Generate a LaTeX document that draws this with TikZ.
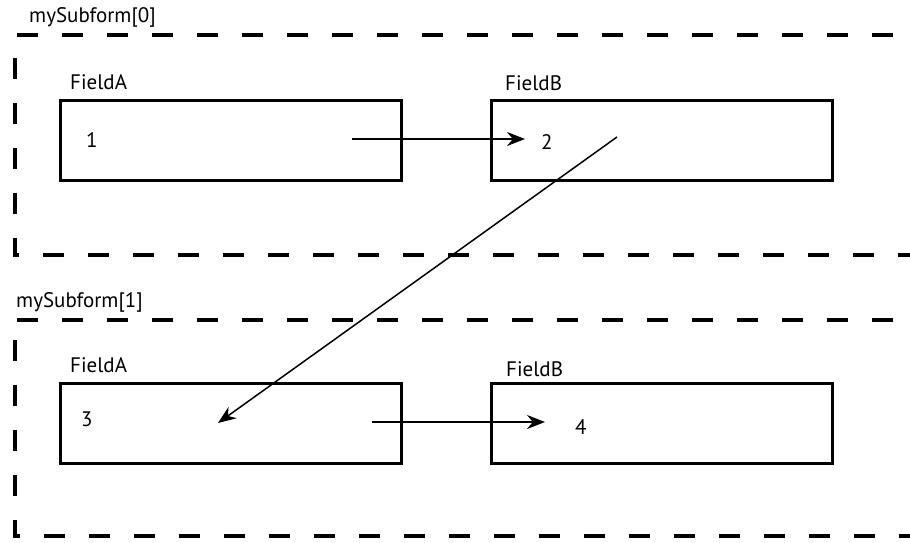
\documentclass[tikz,border=0pt]{standalone}
\usepackage{fontspec}
\setmainfont{PT Sans}
\usetikzlibrary{arrows.meta}

\begin{document}
\begin{tikzpicture}[x=1pt,y=-1pt,
field/.style={draw,line width=3pt,minimum width=341pt,minimum height=80pt,inner sep=0pt},
frame/.style={line width=4.5pt,dash pattern=on 21pt off 24pt},
lbl/.style={anchor=west,inner sep=0pt,font=\fontsize{21}{24}\selectfont},
link/.style={line width=1.5pt,-{Stealth[length=18pt,width=14pt]}}]
\useasboundingbox(0,0)rectangle(910,542);
% mySubform[0]
\draw[frame](17,35)--(910,35);
\draw[frame](15,58)--(15,255)--(910,255);
\node[lbl](sub0)at(29,17){mySubform[0]};
\node[field](a0)at(231,140){};
\node[field](b0)at(662,140){};
\node[lbl](fa0)at(70,82){FieldA};
\node[lbl](fb0)at(505,83){FieldB};
\node[lbl](v1)at(86,140){1};
\node[lbl](v2)at(541,142){2};
% mySubform[1]
\draw[frame](17,320)--(910,320);
\draw[frame](15,340)--(15,536)--(910,536);
\node[lbl](sub1)at(16,302){mySubform[1]};
\node[field](a1)at(231,423){};
\node[field](b1)at(662,423){};
\node[lbl](fa1)at(70,365){FieldA};
\node[lbl](fb1)at(506,369){FieldB};
\node[lbl](v3)at(81,419){3};
\node[lbl](v4)at(575,427){4};
% links
\coordinate(s0)at(352,139);
\coordinate(t0)at(525,139);
\coordinate(s1)at(617,137);
\coordinate(t1)at(218,423);
\coordinate(s2)at(372,422);
\coordinate(t2)at(545,422);
\draw[link](s0)--(t0);
\draw[link](s1)--(t1);
\draw[link](s2)--(t2);
\end{tikzpicture}
\end{document}
